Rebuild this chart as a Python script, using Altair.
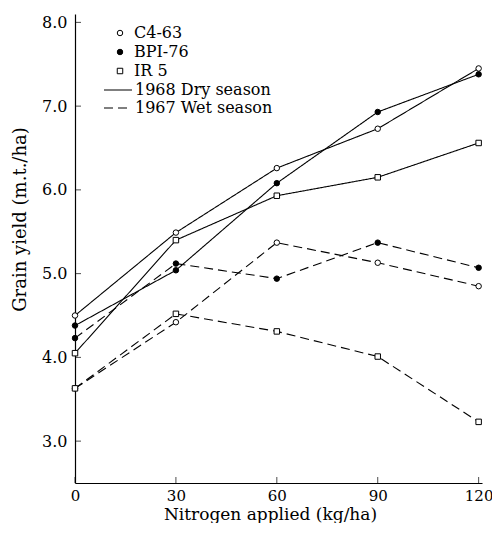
import altair as alt
import pandas as pd

nitrogen = [0, 30, 60, 90, 120]
varieties = ["C4-63", "BPI-76", "IR 5"]
seasons = ["1968 Dry season", "1967 Wet season"]

dry_c4 = [4.50, 5.49, 6.26, 6.73, 7.45]
dry_bpi = [4.38, 5.04, 6.08, 6.93, 7.38]
dry_ir5 = [4.05, 5.40, 5.93, 6.15, 6.56]
wet_c4 = [3.63, 4.42, 5.37, 5.13, 4.85]
wet_bpi = [4.23, 5.12, 4.94, 5.37, 5.07]
wet_ir5 = [3.63, 4.52, 4.31, 4.01, 3.23]

y_ticks = [3.0, 4.0, 5.0, 6.0, 7.0, 8.0]
x_ticks = [0, 30, 60, 90, 120]

series = {
    ("C4-63", "1968 Dry season"): dry_c4,
    ("BPI-76", "1968 Dry season"): dry_bpi,
    ("IR 5", "1968 Dry season"): dry_ir5,
    ("C4-63", "1967 Wet season"): wet_c4,
    ("BPI-76", "1967 Wet season"): wet_bpi,
    ("IR 5", "1967 Wet season"): wet_ir5,
}
rows = []
for (v, s), vals in series.items():
    for n, y in zip(nitrogen, vals):
        rows.append({"variety": v, "season": s, "n": n, "yield": y, "key": v + s})
df = pd.DataFrame(rows)

FONT = "DejaVu Serif"
W, H = 407, 469

xs = alt.Scale(domain=[0, 121], nice=False, zero=False)
ys = alt.Scale(domain=[2.5, 8.1], nice=False, zero=False)

x_enc = alt.X("n:Q", scale=xs, axis=alt.Axis(
    values=x_ticks, ticks=False, grid=False, labelPadding=5, labelFlush=False,
    labelFontSize=15,
    title="Nitrogen applied (kg/ha)", titlePadding=3, titleX=195, titleFontSize=17,
    domainColor="black", domainWidth=1.2))
y_enc = alt.Y("yield:Q", scale=ys, axis=alt.Axis(
    values=y_ticks, format=".1f", ticks=False, grid=False, labelPadding=8,
    title="Grain yield (m.t./ha)", titleY=205, titlePadding=12, titleFontSize=18,
    domainColor="black", domainWidth=1.2))

lines = alt.Chart(df).mark_line(color="black", strokeWidth=1.1).encode(
    x=x_enc, y=y_enc, detail="key:N",
    strokeDash=alt.StrokeDash("season:N",
        scale=alt.Scale(domain=seasons, range=[[1, 0], [9, 5]]),
        legend=alt.Legend(title=None, orient="none", legendX=35, legendY=68,
                          symbolType="M-2,0H2", symbolSize=196, symbolStrokeWidth=1.1,
                          symbolStrokeColor="black", labelOffset=9, rowPadding=2)),
)

leg = dict(title=None, orient="none", legendX=37, legendY=11,
           symbolStrokeColor="black", symbolStrokeWidth=1, labelOffset=6, rowPadding=3)
points = alt.Chart(df).mark_point(strokeWidth=1, opacity=1).encode(
    x="n:Q", y="yield:Q",
    shape=alt.Shape("variety:N", scale=alt.Scale(domain=varieties, range=["circle", "circle", "square"]),
                    legend=alt.Legend(**leg)),
    fill=alt.Fill("variety:N", scale=alt.Scale(domain=varieties, range=["white", "black", "white"]),
                  legend=alt.Legend(**leg)),
    stroke=alt.Stroke("variety:N", scale=alt.Scale(domain=varieties, range=["black", "black", "black"]),
                      legend=alt.Legend(**leg)),
    size=alt.Size("variety:N", scale=alt.Scale(domain=varieties, range=[30, 30, 50]),
                  legend=alt.Legend(**leg)),
)

ytick_df = pd.DataFrame({"t": y_ticks})
xtick_df = pd.DataFrame({"t": x_ticks})
yt = alt.Chart(ytick_df).mark_tick(orient="horizontal", color="black", size=6, thickness=1).encode(
    y=alt.Y("t:Q", scale=ys), x=alt.value(3))
xt = alt.Chart(xtick_df).mark_tick(orient="vertical", color="black", size=6, thickness=1).encode(
    x=alt.X("t:Q", scale=xs), y=alt.value(H - 3))

chart = alt.layer(lines, points, yt, xt).properties(
    width=W, height=H,
    background="white",
    autosize=alt.AutoSizeParams(type="none"),
    padding={"left": 67, "top": 6, "right": 10, "bottom": 40},
).configure_view(stroke=None).configure_axis(
    labelFont=FONT, titleFont=FONT, labelFontSize=16, titleFontSize=18,
    labelColor="black", titleColor="black", titleFontWeight="normal",
).configure_legend(
    labelFont=FONT, labelFontSize=16, labelColor="black", padding=0,
)

chart.save("out.html", embed_options={"renderer": "svg", "actions": False})
